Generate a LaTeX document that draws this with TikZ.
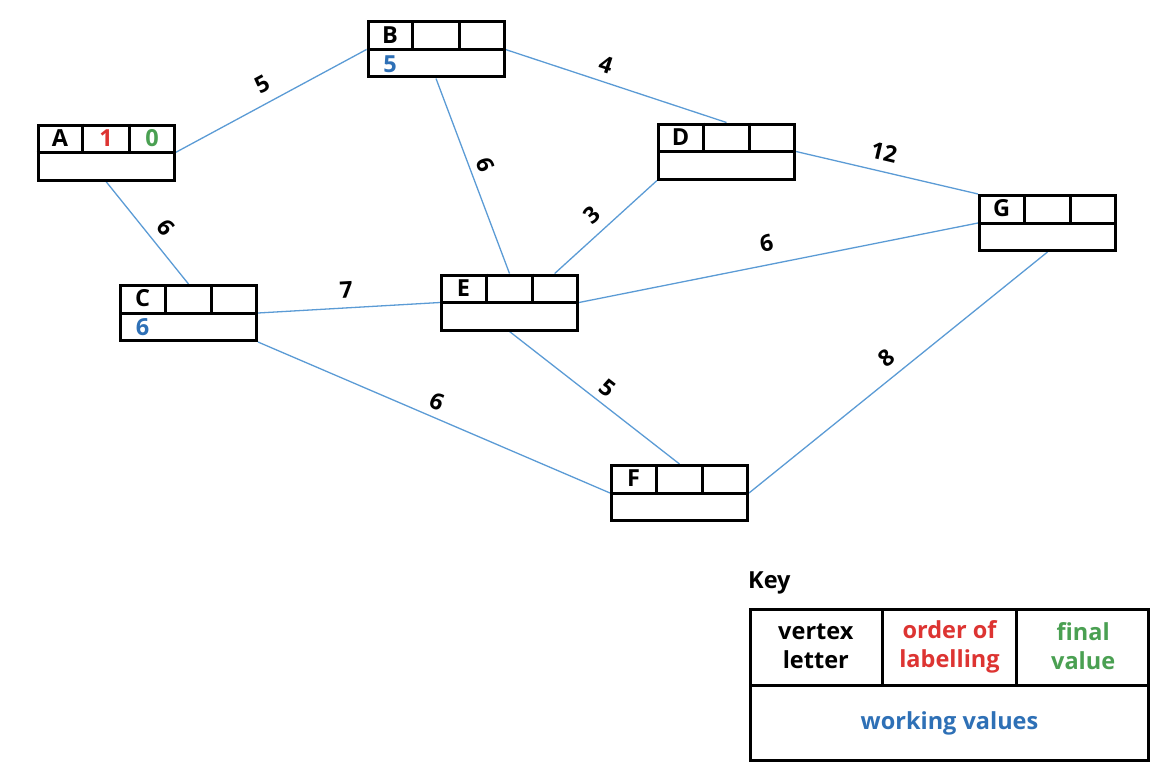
\documentclass[tikz,border=0pt]{standalone}
\usepackage{fontspec}
\setmainfont{Open Sans}
\usetikzlibrary{calc}
\pgfdeclarelayer{background}
\pgfsetlayers{background,main}
\definecolor{edgeblue}{RGB}{91,155,213}
\definecolor{ordred}{RGB}{221,52,50}
\definecolor{fingreen}{RGB}{74,160,82}
\definecolor{workblue}{RGB}{46,112,182}
\tikzset{
    card/.style={
        rectangle, draw=black, line width=3pt,
        minimum width=136pt, minimum height=55pt,
        inner sep=0pt, fill=white
    },
    divider/.style={draw=black, line width=3pt},
    cardtext/.style={font=\fontsize{23.5}{29}\selectfont\bfseries, inner sep=0pt, align=center},
    ordertext/.style={cardtext, text=ordred},
    finaltext/.style={cardtext, text=fingreen},
    worktext/.style={cardtext, text=workblue},
    link/.style={draw=edgeblue, line width=1.3pt},
    wlabel/.style={font=\fontsize{23}{28}\selectfont\bfseries, sloped, inner sep=1pt, above=#1},
    wlabel/.default=7pt
}
% middle line and the two cell walls of the top row
\newcommand{\cardgrid}[1]{%
  \draw[divider] (#1.west) -- (#1.east)
    ($(#1.north west)!1/3!(#1.north east)$) -- ($(#1.west)!1/3!(#1.east)$)
    ($(#1.north west)!2/3!(#1.north east)$) -- ($(#1.west)!2/3!(#1.east)$);
}
% name, position, letter, order, final value, working values
\newcommand{\vertexcard}[6]{%
  \node[card] (#1) at (#2) {};
  \cardgrid{#1}
  \node[cardtext] at ($(#1)+(-46,-14.5)$) {#3};
  \node[ordertext] at ($(#1)+(0,-14.5)$) {#4};
  \node[finaltext] at ($(#1)+(46,-14.5)$) {#5};
  \node[worktext] at ($(#1)+(-46,14.5)$) {#6};
}

\begin{document}
\begin{tikzpicture}[x=1pt, y=-1pt]
\useasboundingbox (0,0) rectangle (1162,776);

% vertices
\vertexcard{A}{106,152.5}{A}{1}{0}{}
\vertexcard{B}{436,49.5}{B}{}{}{5}
\vertexcard{C}{188.5,313}{C}{}{}{6}
\vertexcard{D}{726.5,151.5}{D}{}{}{}
\vertexcard{E}{509.5,302.5}{E}{}{}{}
\vertexcard{F}{679.5,493}{F}{}{}{}
\vertexcard{G}{1047.5,223}{G}{}{}{}

% edges
\begin{pgfonlayer}{background}
\draw[link] (A.east) -- node[wlabel=9pt, pos=0.50] {5} (B.west);
\draw[link] (B.east) -- node[wlabel, pos=0.43] {4} (D.north);
\draw[link] (B.south) -- node[wlabel=6pt, pos=0.47] {6} (E.north);
\draw[link] (A.south) -- node[wlabel=8pt, pos=0.56] {6} (C.north);
\draw[link] (D.east) -- node[wlabel=9pt, pos=0.46] {12} (G.north west);
\draw[link] (D.south west) -- node[wlabel=8pt, pos=0.52] {3} ($(E.north)!0.65!(E.north east)$);
\draw[link] (E.east) -- node[wlabel=11pt, pos=0.48] {6} (G.west);
\draw[link] (C.east) -- node[wlabel=8pt, pos=0.49] {7} (E.west);
\draw[link] (C.south east) -- node[wlabel=6pt, pos=0.49] {6} (F.west);
\draw[link] (E.south) -- node[wlabel=6pt, pos=0.52] {5} (F.north);
\draw[link] (F.east) -- node[wlabel=9pt, pos=0.50] {8} (G.south);
\end{pgfonlayer}

% key
\node[cardtext, anchor=west] (keytitle) at (748,583) {Key};
\node[card, minimum width=398pt, minimum height=151pt] (key) at (949.5,685) {};
\cardgrid{key}
\node[cardtext] at ($(key)+(-133.7,-38.5)$) {vertex\\letter};
\node[ordertext] at ($(key)+(0,-38.5)$) {order of\\labelling};
\node[finaltext] at ($(key)+(133.7,-38.5)$) {final\\value};
\node[worktext] at ($(key)+(0,38.5)$) {working values};

\end{tikzpicture}
\end{document}
